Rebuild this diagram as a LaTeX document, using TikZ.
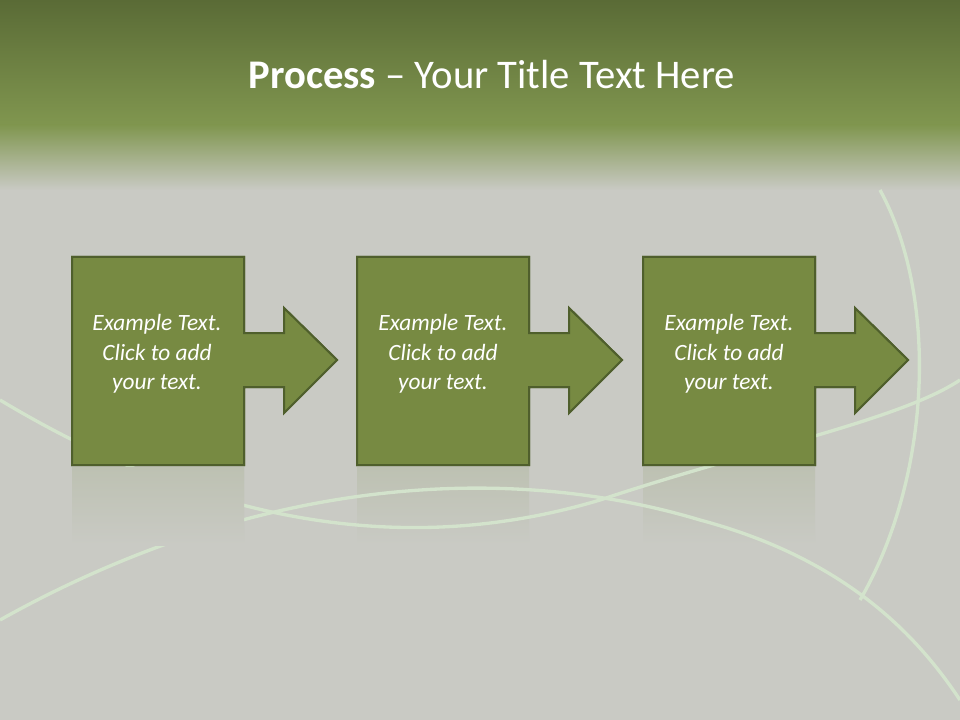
\documentclass[tikz,border=0pt]{standalone}
\usepackage{fontspec}
\setmainfont{Carlito}
\definecolor{bg}{HTML}{C9CAC4}
\definecolor{topg}{HTML}{5A6B36}
\definecolor{midg}{HTML}{80964F}
\definecolor{boxf}{HTML}{778A42}
\definecolor{boxd}{HTML}{4F5F2C}
\definecolor{refl}{HTML}{BDC1B2}
\definecolor{glowc}{HTML}{D3E3CC}
\tikzset{
  stepshape/.style={fill=boxf,draw=boxd,line width=1.5pt,line join=miter},
  steptext/.style={text=white,font=\itshape\fontsize{17.5}{22}\selectfont,align=center},
  glow/.style={draw=glowc,line width=2.5pt}
}
\newcommand{\stepat}[1]{%
  \shade[top color=refl,bottom color=bg] (#1,467) rectangle (#1+172,545);
  \path[stepshape] (#1,257)--(#1+172,257)--(#1+172,333)--(#1+212,333)--(#1+212,308)--(#1+265,360)--(#1+212,413)--(#1+212,387)--(#1+172,387)--(#1+172,465)--(#1,465)--cycle;
}
\begin{document}
\begin{tikzpicture}[x=0.75pt,y=-0.75pt]
\useasboundingbox (0,0) rectangle (960,720);
\fill[bg] (0,0) rectangle (960,720);
\shade[top color=topg,bottom color=midg] (0,0) rectangle (960,125);
\shade[top color=midg,bottom color=bg] (0,125) rectangle (960,190);
\stepat{72}
\stepat{357}
\stepat{643}
\draw[glow] (0,400) .. controls (200,520) and (400,560) .. (600,500) .. controls (750,450) and (900,420) .. (960,380);
\draw[glow] (0,620) .. controls (250,480) and (500,460) .. (700,520) .. controls (850,560) and (920,640) .. (960,700);
\draw[glow] (880,190) .. controls (940,300) and (930,480) .. (860,600);
\stepat{72}
\path[stepshape] (357,257)--(529,257)--(529,333)--(569,333)--(569,308)--(622,360)--(569,413)--(569,387)--(529,387)--(529,465)--(357,465)--cycle;
\path[stepshape] (643,257)--(815,257)--(815,333)--(855,333)--(855,308)--(908,360)--(855,413)--(855,387)--(815,387)--(815,465)--(643,465)--cycle;
\node[text=white,font=\fontsize{30.5}{34}\selectfont] (title) at (492,75) {\textbf{Process} -- Your Title Text Here};
\node[steptext] (t1) at (157,354) {Example Text.\\Click  to add\\your text.};
\node[steptext] (t2) at (443,354) {Example Text.\\Click  to add\\your text.};
\node[steptext] (t3) at (729,354) {Example Text.\\Click  to add\\your text.};
\end{tikzpicture}
\end{document}
